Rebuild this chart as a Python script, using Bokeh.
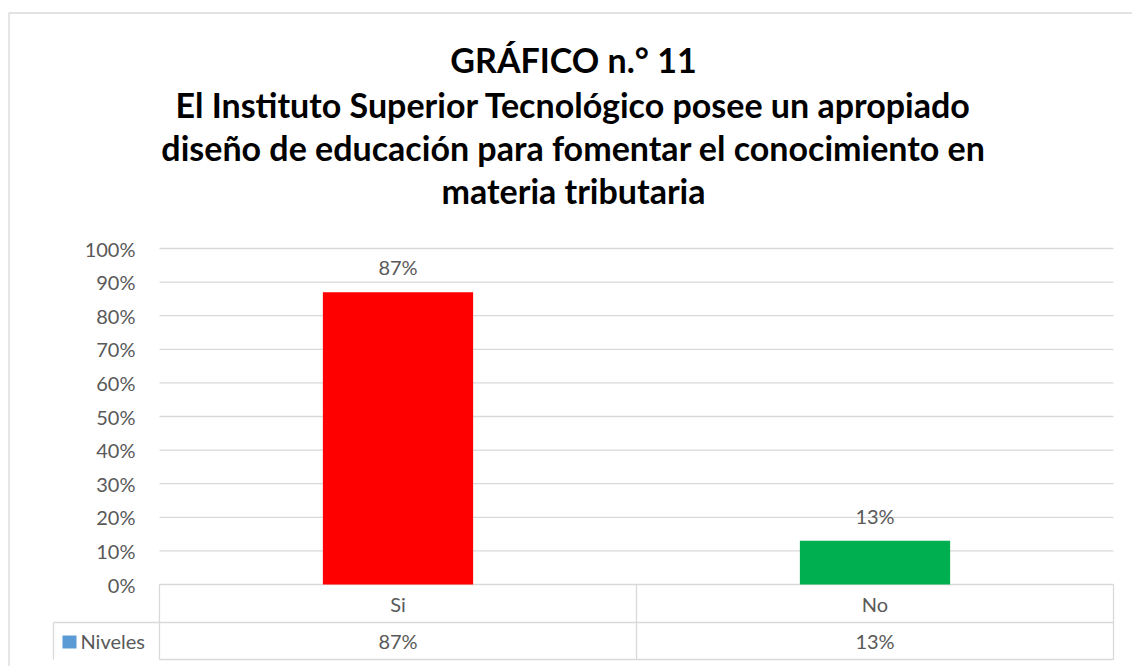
from bokeh.plotting import figure
from bokeh.models import ColumnDataSource, Range1d, FixedTicker, Label, BoxAnnotation, LinearAxis
from bokeh.core.properties import value
from bokeh.embed import file_html
from bokeh.resources import INLINE

# ---------------- data ----------------
categories = ["Si", "No"]
values = [87, 13]                      # percent
bar_colors = ["#FF0000", "#00B050"]
series_name = "Niveles"
series_color = "#5B9BD5"
tick_values = [0, 10, 20, 30, 40, 50, 60, 70, 80, 90, 100]
tick_labels = ["0%", "10%", "20%", "30%", "40%", "50%", "60%", "70%", "80%", "90%", "100%"]
title_lines = [
    "GRÁFICO n.° 11",
    "El Instituto Superior Tecnológico posee un apropiado",
    "diseño de educación para fomentar el conocimiento en",
    "materia tributaria",
]

# ---------------- layout (pixels) ----------------
W, H = 1132, 666
PLOT_L, PLOT_R = 159, 1113     # plot area left / right
ZERO_Y = 584                   # pixel row of 0 %
PX_PER_UNIT = 3.36             # pixels per percent
n = len(categories)
CAT_PX = (PLOT_R - PLOT_L) / n

def dx(px):
    return (px - PLOT_L) / CAT_PX

def dy(py):
    return (ZERO_Y - py) / PX_PER_UNIT

GRID = "#D9D9D9"
TXT = "#595959"
FONT = "Lato"
FS = "20px"

p = figure(width=W, height=H, x_range=Range1d(dx(0), dx(W)), y_range=Range1d(dy(H), dy(0)),
           x_axis_location=None, y_axis_location=None,
           output_backend="svg", toolbar_location=None, min_border=0)
p.min_border_left = p.min_border_right = p.min_border_top = p.min_border_bottom = 0
p.outline_line_color = None
p.background_fill_color = "white"
p.border_fill_color = "white"
p.grid.visible = False

ax = LinearAxis(fixed_location=0, ticker=FixedTicker(ticks=tick_values))
ax.major_label_overrides = dict(zip(tick_values, tick_labels))
ax.axis_line_color = None
ax.major_tick_line_color = None
ax.minor_tick_line_color = None
ax.major_label_standoff = 18
ax.major_label_text_font = FONT
ax.major_label_text_font_size = FS
ax.major_label_text_color = TXT
p.add_layout(ax, "left")

xpos = [i + 0.5 for i in range(n)]

# gridlines over the plot area
p.segment(x0=[0] * len(tick_values), y0=tick_values, x1=[n] * len(tick_values), y1=tick_values,
          line_color=GRID, line_width=1.3)

# bars
src = ColumnDataSource(dict(x=xpos, val=values, color=bar_colors,
                            lab=[f"{v}%" for v in values]))
p.vbar(x="x", top="val", width=0.315, fill_color="color", line_color=None, source=src)
p.text(x="x", y="val", text="lab", source=src, y_offset=-25, text_align="center",
       text_baseline="middle", text_font=value(FONT), text_font_size=FS, text_color=TXT)

# data table
ROW_MID, ROW_BOT = 622, 659
bounds = list(range(0, n + 1))
p.segment(x0=bounds, y0=[0] * len(bounds), x1=bounds, y1=[dy(ROW_BOT)] * len(bounds),
          line_color=GRID, line_width=1.3)
p.segment(x0=[0, dx(53)], y0=[dy(ROW_BOT), dy(ROW_MID)], x1=[n, n], y1=[dy(ROW_BOT), dy(ROW_MID)],
          line_color=GRID, line_width=1.3)
p.segment(x0=[dx(53)], y0=[dy(ROW_MID)], x1=[dx(53)], y1=[dy(ROW_BOT)],
          line_color=GRID, line_width=1.3)
p.add_layout(BoxAnnotation(left=dx(62), right=dx(76), top=dy(635), bottom=dy(648),
                           fill_color=series_color, fill_alpha=1, line_color=None))
p.add_layout(Label(x=dx(80), y=(dy(ROW_MID) + dy(ROW_BOT)) / 2, text=series_name,
                   text_baseline="middle", text_align="left", text_font=FONT,
                   text_font_size=FS, text_color=TXT))
p.text(x=xpos, y=[(0 + dy(ROW_MID)) / 2] * n, text=categories,
       text_align="center", text_baseline="middle", text_font=value(FONT),
       text_font_size=FS, text_color=TXT)
p.text(x=xpos, y=[(dy(ROW_MID) + dy(ROW_BOT)) / 2] * n, text=[f"{v}%" for v in values],
       text_align="center", text_baseline="middle", text_font=value(FONT),
       text_font_size=FS, text_color=TXT)

# outer chart border
p.add_layout(BoxAnnotation(left=dx(8.5), right=dx(1400), top=dy(12.5), bottom=dy(900), fill_alpha=0,
                           line_color=GRID, line_width=1.3, line_alpha=1))

# title
centers = [59, 103.5, 147, 190]
for line, c in zip(title_lines, centers):
    p.add_layout(Label(x=dx(573), y=dy(c), text=line, text_align="center",
                       text_baseline="middle", text_font=FONT, text_font_style="bold",
                       text_font_size="34px", text_color="black"))

open("out.html", "w").write(file_html(p, INLINE))
